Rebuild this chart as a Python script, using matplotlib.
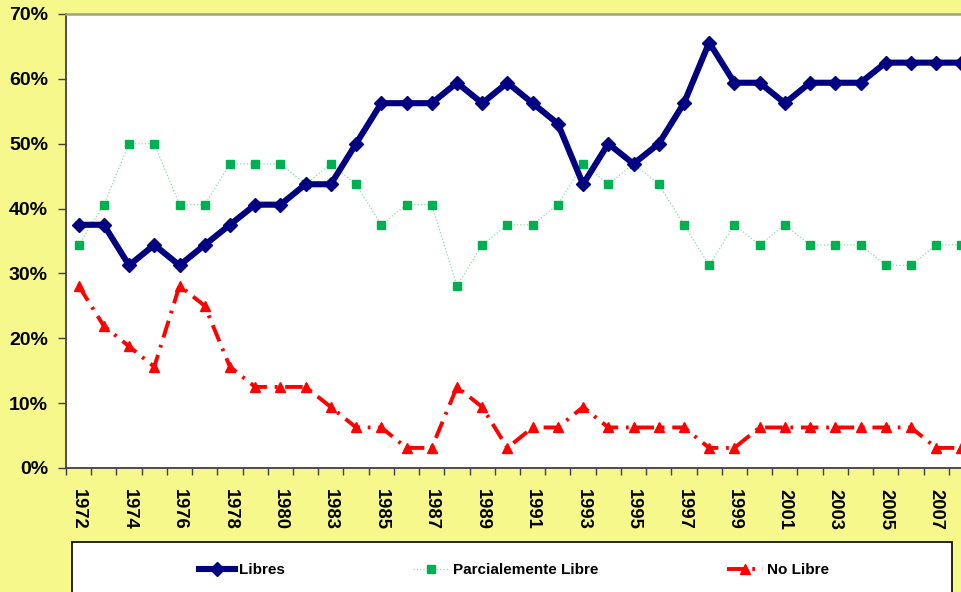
import numpy as np
from matplotlib import pyplot as plt
from matplotlib.patches import Rectangle

# categories (1982 missing in the source series)
years = [1972, 1973, 1974, 1975, 1976, 1977, 1978, 1979, 1980, 1981,
         1983, 1984, 1985, 1986, 1987, 1988, 1989, 1990, 1991, 1992,
         1993, 1994, 1995, 1996, 1997, 1998, 1999, 2000, 2001, 2002,
         2003, 2004, 2005, 2006, 2007, 2008]

libres = [37.5, 37.5, 31.25, 34.4, 31.25, 34.4, 37.5, 40.6, 40.6, 43.75,
          43.75, 50.0, 56.25, 56.25, 56.25, 59.4, 56.25, 59.4, 56.25, 53.1,
          43.75, 50.0, 46.9, 50.0, 56.25, 65.6, 59.4, 59.4, 56.25, 59.4,
          59.4, 59.4, 62.5, 62.5, 62.5, 62.5]
parcial = [34.4, 40.6, 50.0, 50.0, 40.6, 40.6, 46.9, 46.9, 46.9, 43.75,
           46.9, 43.75, 37.5, 40.6, 40.6, 28.1, 34.4, 37.5, 37.5, 40.6,
           46.9, 43.75, 46.9, 43.75, 37.5, 31.25, 37.5, 34.4, 37.5, 34.4,
           34.4, 34.4, 31.25, 31.25, 34.4, 34.4]
no_libre = [28.1, 21.9, 18.75, 15.6, 28.1, 25.0, 15.6, 12.5, 12.5, 12.5,
            9.4, 6.25, 6.25, 3.1, 3.1, 12.5, 9.4, 3.1, 6.25, 6.25,
            9.4, 6.25, 6.25, 6.25, 6.25, 3.1, 3.1, 6.25, 6.25, 6.25,
            6.25, 6.25, 6.25, 6.25, 3.1, 3.1]

plt.rcParams['font.family'] = ['Liberation Sans', 'DejaVu Sans']
plt.rcParams['font.weight'] = 'bold'

bg = '#F6F88C'
fig = plt.figure(figsize=(9.62, 5.92), dpi=100, facecolor=bg)
# plot area runs past the right edge, like the cropped original
ax = fig.add_axes([66/962, 1-468/592, 908/962, (468-14)/592])
ax.set_facecolor('white')

x = np.arange(len(years))
l1, = ax.plot(x, libres, color='#000080', lw=4.4, marker='D', ms=7.5,
              mec='#000080', mfc='#000080', label='Libres', zorder=4)
l2, = ax.plot(x, parcial, color='#8ADDA8', lw=0.9, ls=':', marker='s', ms=5.2,
              mec='#00B050', mfc='#00B050', label='Parcialemente Libre', zorder=3)
l3, = ax.plot(x, no_libre, color='#FF0000', lw=2.8, ls=(0, (4.5, 2.0, 0.7, 2.0)),
              marker='^', ms=6.5, mec='#FF0000', mfc='#FF0000',
              label='No Libre', zorder=3)

ax.set_xlim(-0.5, len(years) - 0.5)
ax.set_ylim(0, 70)
ax.set_yticks(np.arange(0, 71, 10))
ax.set_yticklabels([f'{v}%' for v in range(0, 71, 10)], fontsize=14, fontweight='bold')
ax.tick_params(axis='y', direction='out', length=6, width=1, pad=7, color='#404040')

ax.set_xticks(np.arange(-0.5, len(years), 1))
ax.set_xticklabels([])
ax.tick_params(axis='x', which='major', direction='out', length=5, width=1, color='#404040')
ax.set_xticks(x[::2], [str(y) for y in years[::2]], minor=True)
ax.tick_params(axis='x', which='minor', length=0, pad=15)
for t in ax.get_xticklabels(minor=True):
    t.set_rotation(-90)
    t.set_fontsize(13.2)
    t.set_fontweight('bold')
    t.set_va('top')
    t.set_ha('center')

for s in ['left', 'bottom']:
    ax.spines[s].set_color('#404040')
    ax.spines[s].set_linewidth(1.3)
ax.spines['top'].set_color('#A3A36E')
ax.spines['top'].set_linewidth(1.8)
ax.spines['right'].set_visible(False)

# legend box, cut by the bottom edge
fig.add_artist(Rectangle((72/962, -0.05), (952-72)/962, 0.05 + 1-542/592,
                         transform=fig.transFigure, facecolor='white',
                         edgecolor='black', lw=1.2, zorder=1))
leg = fig.legend(handles=[l1, l2, l3], loc='center', bbox_to_anchor=(514/962, 1-570/592),
                 ncol=3, frameon=False, prop={'size': 11, 'weight': 'bold'},
                 handlelength=2.35, handletextpad=0.25, columnspacing=8.4)
leg.set_zorder(2)

fig.savefig('out.png', dpi=100, facecolor=bg)
